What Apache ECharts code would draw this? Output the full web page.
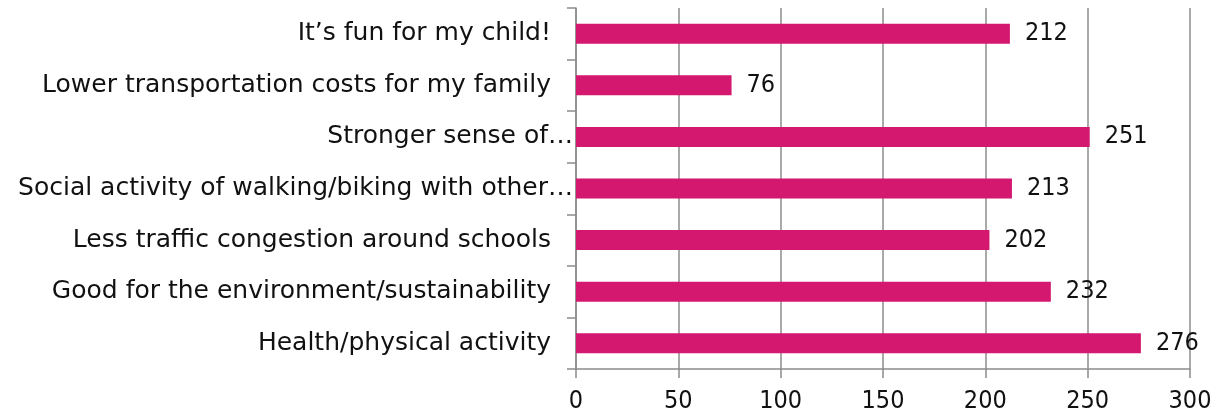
<!DOCTYPE html>
<html><head><meta charset="utf-8">
<script src="https://cdn.jsdelivr.net/npm/echarts@6/dist/echarts.min.js"></script>
<style>html,body{margin:0;padding:0;background:#fff}#c{width:1221px;height:419px}</style>
</head><body><div id="c"></div>
<script>
const categories = [
  "Health/physical activity",
  "Good for the environment/sustainability",
  "Less traffic congestion around schools",
  "Social activity of walking/biking with other\u2026",
  "Stronger sense of\u2026",
  "Lower transportation costs for my family",
  "It\u2019s fun for my child!"
];
const values = [276, 232, 202, 213, 251, 76, 212];
const xTicks = [0, 50, 100, 150, 200, 250, 300];

const FONT = "DejaVu Sans";
const NUMFONT = "DejaVu Sans Condensed";
const chart = echarts.init(document.getElementById('c'));
chart.setOption({
  animation: false,
  grid: {left: 576, right: 31, top: 8, bottom: 50, containLabel: false},
  xAxis: {
    type: 'value', min: xTicks[0], max: xTicks[xTicks.length-1], interval: 50,
    axisLine: {show: true, lineStyle: {color: '#8c8c8c', width: 1.5}},
    axisTick: {show: true, length: 9, lineStyle: {color: '#8c8c8c', width: 1.5}},
    splitLine: {show: true, lineStyle: {color: '#8c8c8c', width: 1.5}},
    axisLabel: {color: '#111', fontFamily: NUMFONT, fontSize: 25, margin: 20}
  },
  yAxis: {
    type: 'category', data: categories,
    axisLine: {show: true, lineStyle: {color: '#8c8c8c', width: 1.5}},
    axisTick: {show: true, length: 9, lineStyle: {color: '#8c8c8c', width: 1.5}},
    axisLabel: {
      color: '#111', fontFamily: FONT, fontSize: 25, margin: 3,
      formatter: function (v) {
        return v.endsWith('\u2026') ? '{t|' + v + '}' : '{n|' + v + '}';
      },
      rich: {
        n: {color: '#111', fontFamily: FONT, fontSize: 25, padding: [0, 22, 0, 0]},
        t: {color: '#111', fontFamily: FONT, fontSize: 25, padding: [0, 0, 0, 0]}
      }
    }
  },
  series: [{
    type: 'bar', data: values, barWidth: 20,
    itemStyle: {color: '#D4176F'},
    label: {show: true, position: 'right', distance: 15, color: '#111', fontFamily: NUMFONT, fontSize: 25}
  }]
});
</script></body></html>
